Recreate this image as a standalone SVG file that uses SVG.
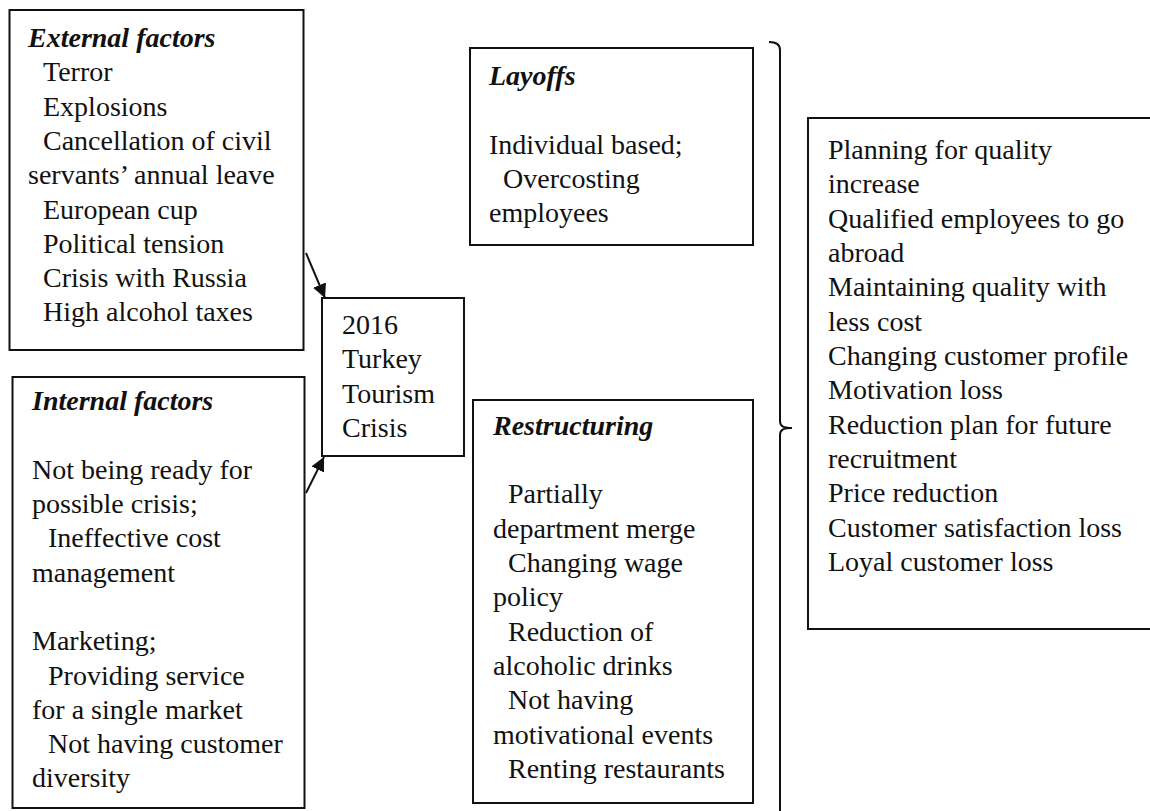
<svg xmlns="http://www.w3.org/2000/svg" width="1150" height="811" viewBox="0 0 1150 811">
<defs>
<style>
.box{fill:#fff;stroke:#111;stroke-width:2}
.t{font-family:"Liberation Serif","Times New Roman",serif;font-size:28px;fill:#111}
.h{font-weight:bold;font-style:italic}
.conn{stroke:#111;stroke-width:2;fill:none}
</style>
<marker id="ah" viewBox="0 0 10 10" refX="10" refY="5" markerWidth="7" markerHeight="7" markerUnits="strokeWidth" orient="auto">
<path d="M0,0 L10,5 L0,10 z" fill="#111"/>
</marker>
</defs>
<rect width="1150" height="811" fill="#fff"/>
<g id="external">
<rect class="box" x="9.5" y="10" width="294" height="340"/>
<text class="t h" x="28" y="47">External factors</text>
<text class="t" x="43" y="81">Terror</text>
<text class="t" x="43" y="116">Explosions</text>
<text class="t" x="43" y="150">Cancellation of civil</text>
<text class="t" x="28" y="184">servants’ annual leave</text>
<text class="t" x="43" y="219">European cup</text>
<text class="t" x="43" y="253">Political tension</text>
<text class="t" x="43" y="287">Crisis with Russia</text>
<text class="t" x="43" y="321">High alcohol taxes</text>
</g>
<g id="internal">
<rect class="box" x="12.5" y="377" width="292" height="431"/>
<text class="t h" x="32" y="410">Internal factors</text>
<text class="t" x="32" y="479">Not being ready for</text>
<text class="t" x="32" y="513">possible crisis;</text>
<text class="t" x="48" y="547">Ineffective cost</text>
<text class="t" x="32" y="582">management</text>
<text class="t" x="32" y="650">Marketing;</text>
<text class="t" x="48" y="685">Providing service</text>
<text class="t" x="32" y="719">for a single market</text>
<text class="t" x="48" y="753">Not having customer</text>
<text class="t" x="32" y="787">diversity</text>
</g>
<g id="crisis">
<rect class="box" x="322" y="298" width="142" height="158"/>
<text class="t" x="342" y="334">2016</text>
<text class="t" x="342" y="368">Turkey</text>
<text class="t" x="342" y="403">Tourism</text>
<text class="t" x="342" y="437">Crisis</text>
</g>
<g id="layoffs">
<rect class="box" x="470" y="48" width="283" height="197"/>
<text class="t h" x="489" y="85">Layoffs</text>
<text class="t" x="489" y="154">Individual based;</text>
<text class="t" x="503" y="188">Overcosting</text>
<text class="t" x="489" y="222">employees</text>
</g>
<g id="restructuring">
<rect class="box" x="473" y="400" width="280" height="403"/>
<text class="t h" x="493" y="435">Restructuring</text>
<text class="t" x="508" y="503">Partially</text>
<text class="t" x="493" y="538">department merge</text>
<text class="t" x="508" y="572">Changing wage</text>
<text class="t" x="493" y="606">policy</text>
<text class="t" x="508" y="641">Reduction of</text>
<text class="t" x="493" y="675">alcoholic drinks</text>
<text class="t" x="508" y="709">Not having</text>
<text class="t" x="493" y="744">motivational events</text>
<text class="t" x="508" y="778">Renting restaurants</text>
</g>
<g id="outcomes">
<rect class="box" x="808" y="118" width="400" height="511"/>
<text class="t" x="828" y="159">Planning for quality</text>
<text class="t" x="828" y="193">increase</text>
<text class="t" x="828" y="228">Qualified employees to go</text>
<text class="t" x="828" y="262">abroad</text>
<text class="t" x="828" y="296">Maintaining quality with</text>
<text class="t" x="828" y="331">less cost</text>
<text class="t" x="828" y="365">Changing customer profile</text>
<text class="t" x="828" y="399">Motivation loss</text>
<text class="t" x="828" y="434">Reduction plan for future</text>
<text class="t" x="828" y="468">recruitment</text>
<text class="t" x="828" y="502">Price reduction</text>
<text class="t" x="828" y="537">Customer satisfaction loss</text>
<text class="t" x="828" y="571">Loyal customer loss</text>
</g>
<g id="connectors">
<line class="conn" x1="306" y1="253" x2="325" y2="298" marker-end="url(#ah)"/>
<line class="conn" x1="306" y1="493" x2="324" y2="457" marker-end="url(#ah)"/>
<path class="conn" stroke-width="1.5" d="M769,42 C776,42 780,44 780,50 L780,421 C780,426 783,428 792,428 C783,428 780,430 780,435 L780,811"/>
</g>
</svg>
